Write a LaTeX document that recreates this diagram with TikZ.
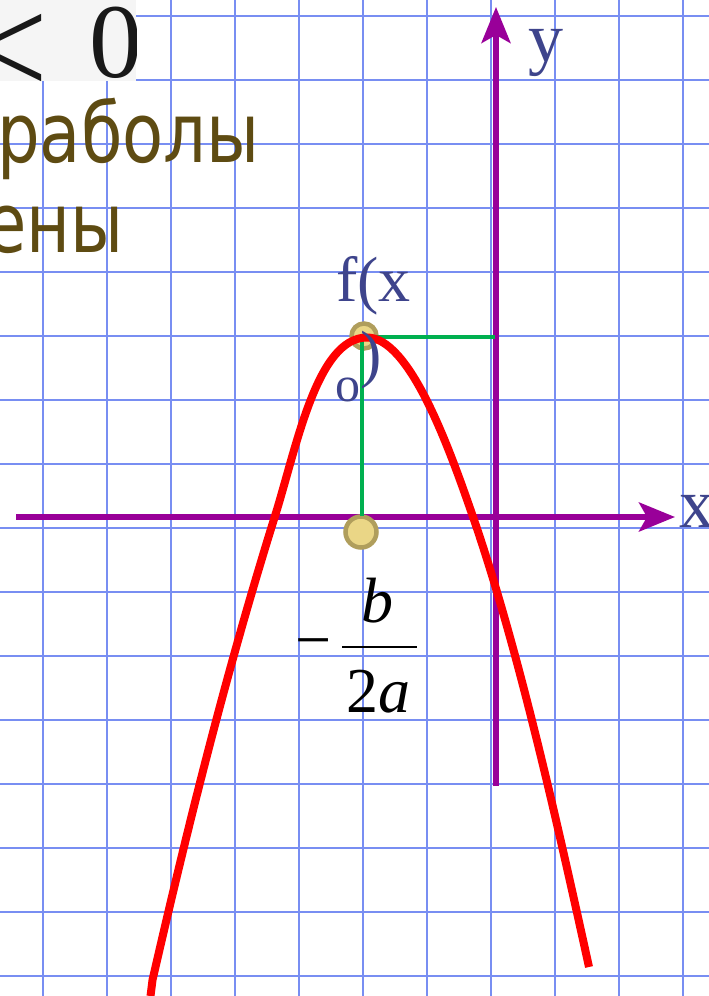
\documentclass[tikz,border=0pt]{standalone}
\usepackage{fontspec}
\setmainfont{Liberation Serif}
\newfontfamily\rusfont{DejaVu Sans}
\usetikzlibrary{arrows.meta}
\definecolor{gridc}{RGB}{120,142,242}
\definecolor{axisc}{RGB}{153,0,153}
\definecolor{curvec}{RGB}{255,0,0}
\definecolor{greenc}{RGB}{0,176,80}
\definecolor{dotfill}{RGB}{234,214,134}
\definecolor{dotedge}{RGB}{176,158,92}
\definecolor{labelc}{RGB}{62,68,140}
\definecolor{rusc}{RGB}{94,75,18}
\definecolor{boxc}{RGB}{245,245,245}
\definecolor{boxtextc}{RGB}{25,25,25}
\begin{document}
\begin{tikzpicture}[x=1pt,y=-1pt,
  gridline/.style={gridc, line width=2pt},
  axisline/.style={axisc, line width=5.5pt, -{Stealth[length=36pt,width=29pt,inset=8pt]}},
  guide/.style={greenc, line width=3.3pt},
  curveline/.style={curvec, line width=8pt},
  dot/.style={circle, fill=dotfill, draw=dotedge, line width=4.5pt, inner sep=0pt},
  lbl/.style={inner sep=0pt, anchor=base west, text=labelc, font=\fontsize{64}{64}\selectfont},
  mathlbl/.style={inner sep=0pt, anchor=base west, text=black, font=\fontsize{64}{64}\selectfont},
  rustext/.style={inner sep=0pt, anchor=base west, text=rusc, font=\rusfont\fontsize{83}{83}\selectfont},
  boxtext/.style={inner sep=0pt, anchor=base west, text=boxtextc}
]
\useasboundingbox (0,0) rectangle (709,996);
\fill[white] (0,0) rectangle (709,996);
% grid
\foreach \i in {0,...,10} \draw[gridline] ({42.7+64*\i},0) -- ({42.7+64*\i},996);
\foreach \j in {0,...,15} \draw[gridline] (0,{16+64*\j}) -- (709,{16+64*\j});
% top-left cropped formula
\begin{scope}
\clip (0,0) rectangle (136,81);
\fill[boxc] (0,0) rectangle (136,81);
\node[boxtext, font=\fontsize{140}{140}\selectfont] (lt) at (-30.6,94.7) {\smash{<}};
\node[boxtext, font=\fontsize{106}{106}\selectfont] (zero) at (89,77) {0};
\end{scope}
% russian text
\node[rustext] (t1) at (-3,162) {\scalebox{0.81}[1]{раболы}};
\node[rustext] (t2) at (-15,252) {\scalebox{0.81}[1]{ены}};
% axes
\coordinate (xs) at (16,517);
\coordinate (xe) at (675,517);
\coordinate (ys) at (496,786);
\coordinate (ye) at (496,7);
\draw[axisline] (xs) -- (xe);
\draw[axisline] (ys) -- (ye);
% dots
\node[dot, minimum size=25pt] (vtop) at (364,336) {};
\node[dot, minimum size=31pt] (vbot) at (361,532) {};
% guides
\coordinate (gtop) at (362,337);
\coordinate (gfoot) at (362,516);
\coordinate (gy) at (495,337);
\draw[guide] (gfoot) -- (gtop) -- (gy);
% curve
\coordinate (cleft) at (150.5,996);
\coordinate (cleftk) at (152.5,980);
\coordinate (cla) at (275,516);
\coordinate (cv) at (367,337.5);
\coordinate (crb) at (472.7,516);
\coordinate (cright) at (589,967);
\draw[curveline] (cleft) -- (cleftk)
  .. controls (187,830) and (225,676) .. (cla)
  .. controls (296.9,446) and (317,337.5) .. (cv)
  .. controls (409.5,337.5) and (448.5,446) .. (crb)
  .. controls (517.7,646) and (556,817) .. (cright);
% labels
\node[lbl] (fx) at (336,301) {f(x};
\node[lbl] (paren) at (360,375) {)};
\node[lbl, font=\fontsize{50}{50}\selectfont] (sub) at (335,401.5) {o};
\node[lbl, font=\fontsize{70}{70}\selectfont] (xl) at (679,527) {x};
\node[lbl, font=\fontsize{70}{70}\selectfont] (yl) at (528,61) {y};
% fraction
\node[mathlbl] (minus) at (295,661) {−};
\node[mathlbl] (num) at (361,622) {\itshape b};
\coordinate (bl) at (342,647);
\coordinate (br) at (417,647);
\draw[black, line width=2.7pt] (bl) -- (br);
\node[mathlbl] (den) at (346,712) {2\itshape a};
\end{tikzpicture}
\end{document}
